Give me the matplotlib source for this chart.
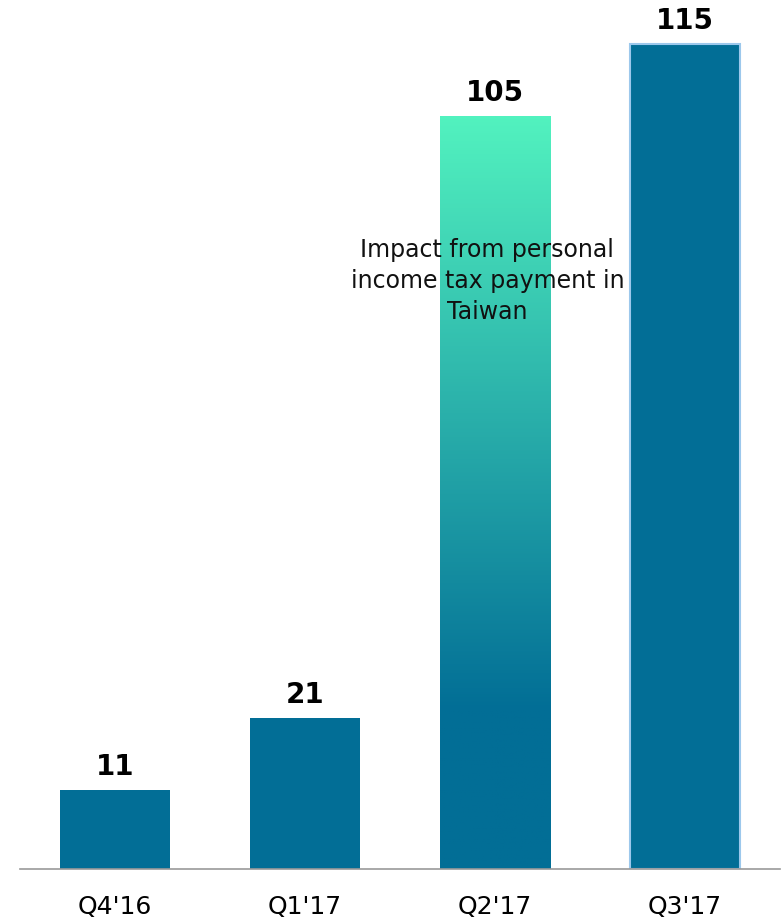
import matplotlib.pyplot as plt
import numpy as np
from matplotlib.colors import LinearSegmentedColormap

# data
quarters = ["Q4'16", "Q1'17", "Q2'17", "Q3'17"]
values = [11, 21, 105, 115]
note = "Impact from personal\nincome tax payment in\nTaiwan"

dark_blue = '#026E96'
light_green = '#52F2BF'

fig = plt.figure(figsize=(7.84, 9.24), dpi=100)
ax = fig.add_axes([20 / 784, 55 / 924, 760 / 784, 869 / 924])

x = np.arange(len(quarters))
width = 0.58
bars = ax.bar(x, values, width=width, color=dark_blue, zorder=2)

# Q2'17 bar gets a vertical gradient
grad_bar = bars[2]
grad_bar.set_facecolor('none')
bx, bw = grad_bar.get_x(), grad_bar.get_width()
top = values[2]
fade_end = 22  # gradient reaches dark blue here
cmap = LinearSegmentedColormap.from_list('g', [dark_blue, light_green])
ys = np.linspace(0, top, 400)
col = np.clip((ys - fade_end) / (top - fade_end), 0, 1)[:, None]
img = ax.imshow(col, cmap=cmap, vmin=0, vmax=1, origin='lower', aspect='auto',
                extent=[bx, bx + bw, 0, top], zorder=1)
img.set_clip_path(grad_bar)

# Q3'17 has a light edge
bars[3].set_edgecolor('#9CC8EC')
bars[3].set_linewidth(1.5)

for xi, v in zip(x, values):
    ax.text(xi, v + 1.3, str(v), ha='center', va='bottom', fontsize=20,
            fontweight='bold', color='black')

ax.text(x[2] - 0.04, 82.0, note, ha='center', va='center', fontsize=17,
        linespacing=1.38, color='#111111', zorder=3)

ax.set_xlim(-0.5, 3.5)
ax.set_ylim(0, 121.2)
ax.set_xticks(x)
ax.set_xticklabels(quarters, fontsize=18)
ax.tick_params(axis='x', length=0, pad=19)
ax.set_yticks([])
for s in ['top', 'right', 'left']:
    ax.spines[s].set_visible(False)
ax.spines['bottom'].set_color('#999999')
ax.spines['bottom'].set_linewidth(1.2)

plt.savefig('out.png', dpi=100)
